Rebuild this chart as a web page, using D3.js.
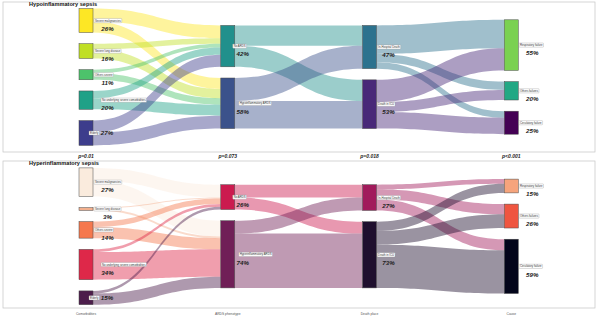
<!DOCTYPE html>
<html>
<head>
<meta charset="utf-8">
<script src="https://cdn.jsdelivr.net/npm/d3@7"></script>
<style>
  body { margin: 0; background: #fff; }
  svg { display: block; font-family: "Liberation Sans", Arial, sans-serif; }
</style>
</head>
<body>
<div id="chart"></div>
<script>
// ---- data ----
const axes = ["Comorbidities", "ARDS phenotype", "Death place", "Cause"];
const pValues = ["p=0.01", "p=0.073", "p=0.018", "p<0.001"];

const comorbidities = ["Severe malignancies", "Severe lung disease", "Others severe", "No underlying severe comorbidities", "Elderly"];
const hypoArds = ["No ARDS", "Hypoinflammatory ARDS"];
const hyperArds = ["No ARDS", "Hyperinflammatory ARDS"];
const deathPlace = ["In-Hospital Death", "Death in ICU"];
const causes = ["Respiratory failure", "Others failures", "Circulatory failure"];

// percent labels printed next to each stratum
const hypoPct = [[26, 16, 11, 20, 27], [42, 58], [47, 53], [55, 20, 25]];
const hyperPct = [[27, 3, 14, 34, 15], [26, 74], [27, 73], [15, 26, 59]];

// flows between neighbouring axes (% of patients), rows = left strata, cols = right strata
const hypoFlows = [
  [[14, 12], [6, 10], [4, 7], [8, 12], [13, 14]],
  [[22, 23], [25, 30]],
  [[31, 9, 7], [24, 11, 18]]
];
const hyperFlows = [
  [[14, 17], [1, 2], [6, 12], [3, 30], [3, 12]],
  [[14, 13], [14, 59]],
  [[5, 11, 12], [10, 15, 47]]
];

const hypoColors = [
  ["#FDE725", "#C0DF25", "#4DC36B", "#1FA187", "#3D3D8C"],
  ["#21908C", "#3B528B"],
  ["#2C728E", "#482878"],
  ["#7AD151", "#22A884", "#440154"]
];
const hyperColors = [
  ["#FAEBDD", "#F3B08E", "#F5784E", "#DE2849", "#4C1D4B"],
  ["#CB1B4F", "#701F57"],
  ["#A11A5B", "#1F0F2E"],
  ["#F6A47C", "#EF5540", "#03051A"]
];

// ---- layout ----
const width = 597, height = 318;
const boxW = 14, gap = 11.2;
const svg = d3.select("#chart").append("svg").attr("width", width).attr("height", height);

const x = d3.scalePoint().domain(axes).range([79, 504.3]);
const h = d3.scaleLinear().domain([0, 100]).range([0, 92]);

// repel-like nudges of the boxed labels
const labelNudge = { "No underlying severe comorbidities": 7, "Elderly": -5, "Hypoinflammatory ARDS": 6, "Hyperinflammatory ARDS": 6 };
const labelBase = [1, -2, 0.7, 0.7];
const pctDx = [14.5, 8, 12, 14];

const panels = [
  { title: "Hypoinflammatory sepsis", top: 2, bottom: 152, mid: 77, names: [comorbidities, hypoArds, deathPlace, causes], pct: hypoPct, flows: hypoFlows, colors: hypoColors },
  { title: "Hyperinflammatory sepsis", top: 161, bottom: 308, mid: 236.3, names: [comorbidities, hyperArds, deathPlace, causes], pct: hyperPct, flows: hyperFlows, colors: hyperColors }
];

function drawPanel(p) {
  const g = svg.append("g");
  const mid = p.mid;

  g.append("rect")
    .attr("x", 3).attr("y", p.top).attr("width", 592).attr("height", p.bottom - p.top)
    .attr("fill", "none").attr("stroke", "#c4c4c4").attr("stroke-width", 0.7);

  // stratum sizes: from outgoing flows, last axis from incoming
  const sizes = p.names.map((names, i) => names.map((_, j) =>
    i < p.flows.length ? d3.sum(p.flows[i][j]) : d3.sum(p.flows[i - 1], r => r[j])));

  const strata = sizes.map((col, i) => {
    const total = h(d3.sum(col)) + gap * (col.length - 1);
    let y = mid - total / 2;
    return col.map((v, j) => {
      const s = { axis: i, idx: j, name: p.names[i][j], x0: x(axes[i]), y0: y, y1: y + h(v), color: p.colors[i][j], pct: p.pct[i][j] };
      y = s.y1 + gap;
      return s;
    });
  });

  // flows
  const flowG = g.append("g").attr("fill-opacity", 0.45);
  p.flows.forEach((m, i) => {
    const L = strata[i], R = strata[i + 1];
    const outY = L.map(s => s.y0), inY = R.map(s => s.y0);
    const links = [];
    m.forEach((row, s) => row.forEach((v, t) => {
      const sy0 = outY[s]; outY[s] += h(v);
      links.push({ s, t, v, sy0, sy1: outY[s] });
    }));
    R.forEach((_, t) => links.filter(l => l.t === t).sort((a, b) => a.s - b.s).forEach(l => {
      l.ty0 = inY[t]; inY[t] += h(l.v); l.ty1 = inY[t];
    }));
    const x0 = L[0].x0 + boxW, x1 = R[0].x0, xm = (x0 + x1) / 2;
    flowG.selectAll(null).data(links.filter(l => l.v > 0)).join("path")
      .attr("fill", l => L[l.s].color)
      .attr("d", l => `M${x0},${l.sy0}C${xm},${l.sy0} ${xm},${l.ty0} ${x1},${l.ty0}` +
        `L${x1},${l.ty1}C${xm},${l.ty1} ${xm},${l.sy1} ${x0},${l.sy1}Z`);
  });

  // strata boxes
  const all = strata.flat();
  g.append("g").selectAll("rect").data(all).join("rect")
    .attr("x", d => d.x0).attr("y", d => d.y0)
    .attr("width", boxW).attr("height", d => d.y1 - d.y0)
    .attr("fill", d => d.color).attr("stroke", "#4a4a4a").attr("stroke-width", 0.5);

  // boxed labels
  const lab = g.append("g").selectAll("g").data(all).join("g")
    .attr("transform", d => {
      const lx = d.x0 + boxW + labelBase[d.axis] + (labelNudge[d.name] || 0);
      return `translate(${lx},${(d.y0 + d.y1) / 2})`;
    });
  lab.append("rect").attr("class", "lb");
  lab.append("text").text(d => d.name)
    .attr("x", 0.9).attr("dy", "0.35em")
    .attr("font-size", 2.8).attr("fill", "#333");
  lab.each(function () {
    const t = d3.select(this).select("text").node();
    const w = t.getComputedTextLength();
    d3.select(this).select("rect.lb")
      .attr("x", 0).attr("y", -2.1).attr("width", w + 1.8).attr("height", 4.2)
      .attr("rx", 0.6).attr("fill", "#fff").attr("stroke", "#9a9a9a").attr("stroke-width", 0.35);
  });

  // percent labels
  g.append("g").selectAll("text").data(all).join("text")
    .attr("x", d => d.x0 + boxW + pctDx[d.axis] + (d.name === "Elderly" ? -0.5 : 0))
    .attr("y", d => (d.y0 + d.y1) / 2 + (d.name === "Elderly" ? 0 : 8))
    .attr("dy", "0.36em").attr("text-anchor", "middle")
    .attr("font-size", 6.2).attr("font-weight", "bold").attr("font-style", "italic")
    .attr("fill", "#222")
    .text(d => d.pct + "%");

  // panel title
  g.append("text").attr("x", 29).attr("y", p.top + 4.2)
    .attr("font-size", 5.6).attr("font-weight", "bold").attr("fill", "#111")
    .text(p.title);
}

panels.forEach(drawPanel);

// p-values between panels
svg.append("g").selectAll("text").data(pValues).join("text")
  .attr("x", (d, i) => x(axes[i]) + boxW / 2).attr("y", 158)
  .attr("text-anchor", "middle").attr("font-size", 5)
  .attr("font-weight", "bold").attr("font-style", "italic").attr("fill", "#222")
  .text(d => d);

// axis names at the bottom
svg.append("g").selectAll("text").data(axes).join("text")
  .attr("x", d => x(d) + boxW / 2).attr("y", 314.5)
  .attr("text-anchor", "middle").attr("font-size", 3.3).attr("fill", "#555")
  .text(d => d);
</script>
</body>
</html>
